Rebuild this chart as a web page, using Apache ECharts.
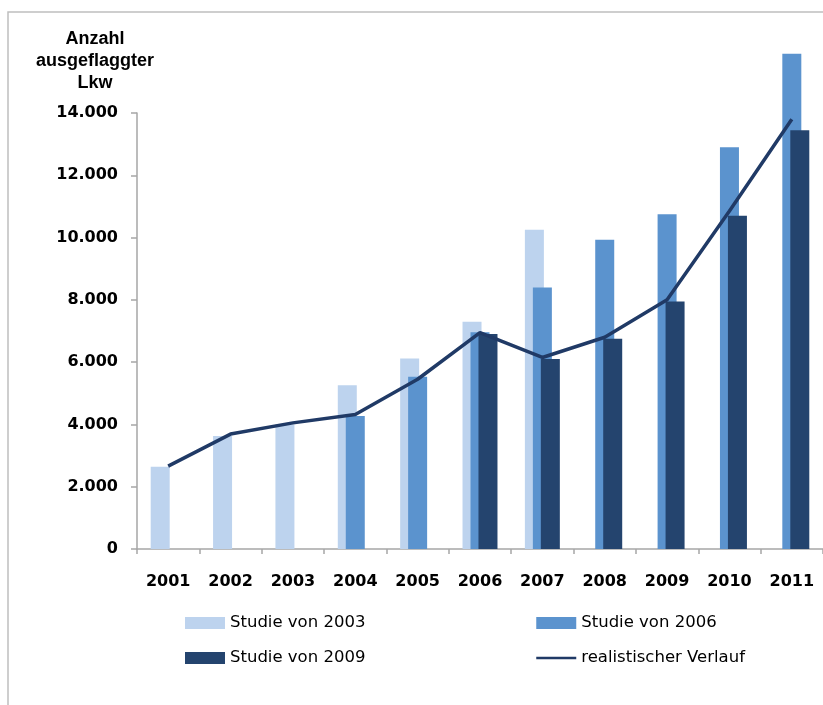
<!DOCTYPE html>
<html>
<head>
<meta charset="utf-8">
<style>
  html, body { margin: 0; padding: 0; background: #ffffff; }
  #chart { width: 823px; height: 705px; }
</style>
<script src="https://cdn.jsdelivr.net/npm/echarts@6/dist/echarts.min.js"></script>
</head>
<body>
<div id="chart"></div>
<script>
// Jahre auf der x-Achse
const categories = ['2001', '2002', '2003', '2004', '2005', '2006', '2007', '2008', '2009', '2010', '2011'];

// Prognosen der einzelnen Studien (Anzahl ausgeflaggter Lkw)
const studie2003 = [2640, 3630, 4000, 5260, 6120, 7300, 10250, null, null, null, null];
const studie2006 = [null, null, null, 4270, 5530, 6960, 8400, 9930, 10750, 12900, 15900];
const studie2009 = [null, null, null, null, null, 6900, 6100, 6750, 7950, 10700, 13450];

// tatsächliche Entwicklung
const realistisch = [2660, 3690, 4050, 4320, 5450, 6950, 6150, 6800, 8000, 10850, 13800];

// Beschriftung der y-Achse
const yTicks = [0, 2000, 4000, 6000, 8000, 10000, 12000, 14000];

const seriesNames = ['Studie von 2003', 'Studie von 2006', 'Studie von 2009', 'realistischer Verlauf'];

const LABEL_FONT = '"DejaVu Sans", Verdana, sans-serif';
const TITLE_FONT = '"Liberation Sans", Arial, sans-serif';

function fmt(v) {
  return String(v).replace(/\B(?=(\d{3})+(?!\d))/g, '.');
}

const chart = echarts.init(document.getElementById('chart'), null, { renderer: 'canvas' });

const legendBase = {
  orient: 'vertical',
  top: 608,
  itemWidth: 40,
  itemHeight: 12,
  itemGap: 15,
  lineStyle: { width: 2.5 },
  textStyle: { fontFamily: LABEL_FONT, fontSize: 16.5, color: '#000000', lineHeight: 20 }
};

const option = {
  backgroundColor: '#ffffff',
  animation: false,
  title: {
    text: 'Anzahl\nausgeflaggter\nLkw',
    left: 90,
    top: 23,
    textAlign: 'center',
    textStyle: {
      fontFamily: TITLE_FONT,
      fontSize: 18,
      fontWeight: 'bold',
      color: '#000000',
      lineHeight: 22
    }
  },
  legend: [
    Object.assign({}, legendBase, {
      left: 180,
      data: [
        { name: seriesNames[0], icon: 'rect' },
        { name: seriesNames[2], icon: 'rect' }
      ]
    }),
    Object.assign({}, legendBase, {
      left: 530,
      data: [
        { name: seriesNames[1], icon: 'rect' },
        { name: seriesNames[3], itemStyle: { opacity: 0 } }
      ]
    })
  ],
  grid: {
    left: 137,
    right: -7,
    top: 113,
    bottom: 156,
    containLabel: false
  },
  xAxis: {
    type: 'category',
    data: categories,
    boundaryGap: true,
    axisLine: { show: true, lineStyle: { color: '#a6a6a6', width: 1.5 } },
    axisTick: { show: true, alignWithLabel: false, length: 5, lineStyle: { color: '#a6a6a6', width: 1.5 } },
    axisLabel: {
      margin: 25,
      fontFamily: LABEL_FONT,
      fontSize: 16,
      fontWeight: 'bold',
      color: '#000000'
    },
    splitLine: { show: false }
  },
  yAxis: {
    type: 'value',
    min: yTicks[0],
    max: yTicks[yTicks.length - 1],
    interval: yTicks[1] - yTicks[0],
    axisLine: { show: true, lineStyle: { color: '#a6a6a6', width: 1.5 } },
    axisTick: { show: true, length: 6, lineStyle: { color: '#a6a6a6', width: 1.5 } },
    axisLabel: {
      margin: 19,
      fontFamily: LABEL_FONT,
      fontSize: 16,
      fontWeight: 'bold',
      color: '#000000',
      formatter: fmt
    },
    splitLine: { show: false }
  },
  series: [
    {
      name: seriesNames[0],
      type: 'bar',
      data: studie2003,
      barWidth: 19,
      barGap: '-58%',
      clip: false,
      itemStyle: { color: '#bdd3ee' }
    },
    {
      name: seriesNames[1],
      type: 'bar',
      data: studie2006,
      barWidth: 19,
      barGap: '-58%',
      clip: false,
      itemStyle: { color: '#5b93ce' }
    },
    {
      name: seriesNames[2],
      type: 'bar',
      data: studie2009,
      barWidth: 19,
      barGap: '-58%',
      clip: false,
      itemStyle: { color: '#24446e' }
    },
    {
      name: seriesNames[3],
      type: 'line',
      data: realistisch,
      symbol: 'none',
      z: 5,
      lineStyle: { color: '#203a66', width: 3.5 },
      itemStyle: { color: '#203a66' }
    }
  ],
  graphic: [
    {
      type: 'polyline',
      silent: true,
      shape: { points: [[8, 705], [8, 12], [823, 12]] },
      style: { stroke: '#bfbfbf', lineWidth: 1.5, fill: null }
    }
  ]
};

chart.setOption(option);
</script>
</body>
</html>
